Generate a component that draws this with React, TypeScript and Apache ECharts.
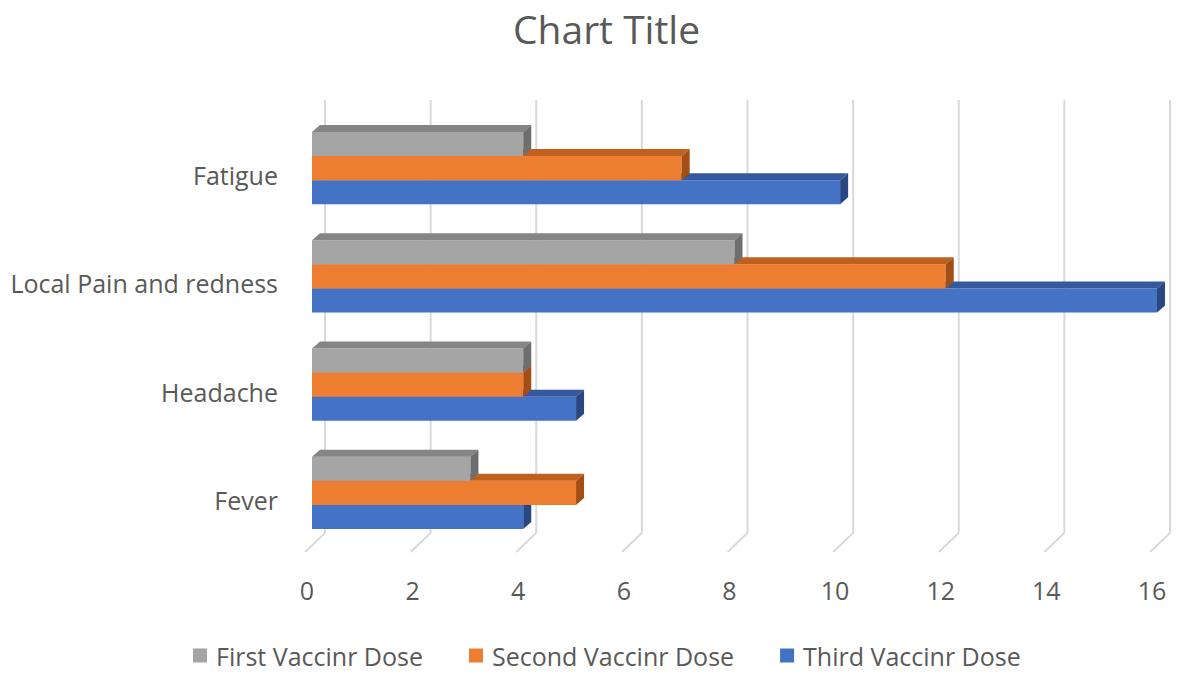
import React, { useEffect, useRef } from "react";
import * as echarts from "echarts";

const categories = ["Fever", "Headache", "Local Pain and redness", "Fatigue"];
const seriesNames = ["First Vaccinr Dose", "Second Vaccinr Dose", "Third Vaccinr Dose"];
const firstDose = [3, 4, 8, 4];
const secondDose = [5, 4, 12, 7];
const thirdDose = [4, 5, 16, 10];
const xTicks = [0, 2, 4, 6, 8, 10, 12, 14, 16];

const FRONT = ["#A5A5A5", "#ED7D31", "#4472C4"];
const TOP = ["#858585", "#C0601F", "#36599E"];
const SIDE = ["#6E6E6E", "#A34E14", "#2A4782"];

const DX = 8;
const DY = 7;

function makeBarRender(idx: number) {
  return (params: any, api: any) => {
    const v = api.value(0);
    const c = api.value(1);
    const p0 = api.coord([0, c]);
    const p1 = api.coord([v, c]);
    const band = api.size([0, 1])[1];
    const h = band * 0.222;
    const yTop = p0[1] + (idx - 1.5) * h;
    const x0 = p0[0];
    const x1 = p1[0];
    return {
      type: "group",
      children: [
        {
          type: "rect",
          shape: { x: x0, y: yTop, width: x1 - x0, height: h },
          style: { fill: FRONT[idx] },
        },
        {
          type: "polygon",
          shape: {
            points: [
              [x0, yTop],
              [x0 + DX, yTop - DY],
              [x1 + DX, yTop - DY],
              [x1, yTop],
            ],
          },
          style: { fill: TOP[idx] },
        },
        {
          type: "polygon",
          shape: {
            points: [
              [x1, yTop],
              [x1 + DX, yTop - DY],
              [x1 + DX, yTop + h - DY],
              [x1, yTop + h],
            ],
          },
          style: { fill: SIDE[idx] },
        },
      ],
    };
  };
}

function gridRender(params: any, api: any) {
  const cs = params.coordSys;
  const x = api.coord([api.value(0), 0])[0];
  const top = cs.y - 14;
  const bottom = cs.y + cs.height - 14;
  return {
    type: "group",
    children: [
      {
        type: "line",
        shape: { x1: x + 13, y1: top, x2: x + 13, y2: bottom },
        style: { stroke: "#D9D9D9", lineWidth: 2 },
      },
      {
        type: "line",
        shape: { x1: x + 13, y1: bottom, x2: x - 7, y2: cs.y + cs.height + 5 },
        style: { stroke: "#D9D9D9", lineWidth: 2 },
      },
    ],
  };
}

export default function App() {
  const ref = useRef<HTMLDivElement>(null);
  useEffect(() => {
    if (!ref.current) return;
    const chart = echarts.init(ref.current, undefined, { renderer: "svg" });
    const font = "'Open Sans', 'Noto Sans', sans-serif";
    const allData = [firstDose, secondDose, thirdDose];
    chart.setOption({
      animation: false,
      backgroundColor: "#FFFFFF",
      textStyle: { fontFamily: font },
      title: {
        text: "Chart Title",
        left: 508,
        top: 4,
        textStyle: { fontFamily: font, fontSize: 39, fontWeight: "normal", color: "#595959" },
      },
      legend: {
        data: seriesNames,
        bottom: 12,
        left: 188,
        icon: "rect",
        itemWidth: 14,
        itemHeight: 14,
        itemGap: 46,
        textStyle: { fontFamily: font, fontSize: 25, color: "#595959", padding: [0, 0, 0, 4] },
      },
      grid: { left: 312, right: 24, top: 114, bottom: 138 },
      xAxis: {
        type: "value",
        min: 0,
        max: 16,
        interval: 2,
        axisLine: { show: false },
        axisTick: { show: false },
        splitLine: { show: false },
        axisLabel: {
          margin: 30,
          fontSize: 25,
          color: "#595959",
          fontFamily: font,
          padding: [0, 10, 0, 0],
        },
      },
      yAxis: {
        type: "category",
        data: categories,
        axisLine: { show: false },
        axisTick: { show: false },
        splitLine: { show: false },
        axisLabel: {
          margin: 34,
          fontSize: 25,
          color: "#595959",
          fontFamily: font,
          verticalAlign: "top",
          lineHeight: 14,
        },
      },
      series: [
        {
          type: "custom",
          name: "grid",
          silent: true,
          z: 1,
          renderItem: gridRender,
          encode: { x: 0, y: 1 },
          data: xTicks.map((t) => [t, 0]),
        },
        ...seriesNames.map((name, i) => ({
          type: "custom",
          name,
          z: 10 - i,
          itemStyle: { color: FRONT[i] },
          renderItem: makeBarRender(i),
          encode: { x: 0, y: 1 },
          data: allData[i].map((v, c) => [v, c]),
        })),
      ],
    });
    return () => chart.dispose();
  }, []);
  return (
    <div
      ref={ref}
      style={{ position: "fixed", left: 0, top: 0, width: 1181, height: 685 }}
    />
  );
}
